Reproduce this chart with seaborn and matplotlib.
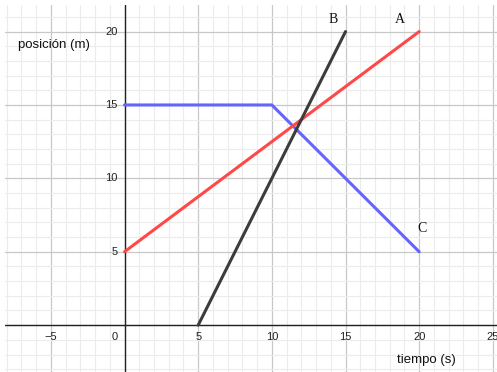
import matplotlib
matplotlib.use("Agg")
import matplotlib.pyplot as plt
from matplotlib.ticker import MultipleLocator
import seaborn as sns
import pandas as pd

# Data
a_t = [0, 20]
a_x = [5, 20]
b_t = [5, 15]
b_x = [0, 20]
c_t = [0, 10, 20]
c_x = [15, 15, 5]
x_ticks = [-5, 5, 10, 15, 20, 25]
y_ticks = [5, 10, 15, 20]

sns.set_theme(style="white")
plt.rcParams['font.family'] = ['Liberation Sans', 'DejaVu Sans']

fig = plt.figure(figsize=(4.97, 3.72), dpi=100)
ax = fig.add_axes([5/497, 0, 492/497, 367/372])
ax.set_xlim(-8.11, 25.28)
ax.set_ylim(-3.19, 21.81)

ax.xaxis.set_major_locator(MultipleLocator(5))
ax.xaxis.set_minor_locator(MultipleLocator(1))
ax.yaxis.set_major_locator(MultipleLocator(5))
ax.yaxis.set_minor_locator(MultipleLocator(1))
ax.grid(which='minor', color='#ececec', lw=0.8)
ax.grid(which='major', color='#c8c8c8', lw=0.9)
ax.tick_params(which='both', length=0, labelbottom=False, labelleft=False)
for s in ax.spines.values():
    s.set_visible(False)
ax.set_axisbelow(True)
ax.axhline(0, color='#222222', lw=1.0, zorder=1.5)
ax.axvline(0, color='#222222', lw=1.0, zorder=1.5)

dfa = pd.DataFrame({'t': a_t, 'x': a_x})
dfb = pd.DataFrame({'t': b_t, 'x': b_x})
dfc = pd.DataFrame({'t': c_t, 'x': c_x})
sns.lineplot(data=dfc, x='t', y='x', ax=ax, color='#6464ff', lw=2.2, sort=False, zorder=3)
sns.lineplot(data=dfa, x='t', y='x', ax=ax, color='#ff4848', lw=2.2, sort=False, zorder=3)
sns.lineplot(data=dfb, x='t', y='x', ax=ax, color='#3c3c3c', lw=2.2, sort=False, zorder=3)
ax.set_xlabel('')
ax.set_ylabel('')

lab_kw = dict(fontsize=8, color='#222222')
for v in y_ticks:
    ax.text(-0.45, v, str(v), ha='right', va='center', **lab_kw)
for v in x_ticks:
    ax.text(v, -0.78, str(v).replace('-', '\u2212'), ha='center', va='center', **lab_kw)
ax.text(-0.45, -0.78, '0', ha='right', va='center', **lab_kw)

ax.text(-7.2, 19.1, 'posición (m)', ha='left', va='center', fontsize=9.5, color='#111111')
ax.text(20.47, -2.4, 'tiempo (s)', ha='center', va='center', fontsize=9.5, color='#111111')

ser = dict(fontsize=10, family=['Liberation Serif', 'DejaVu Serif'], color='#111111', ha='center', va='center')
ax.text(18.7, 20.8, 'A', **ser)
ax.text(14.15, 20.8, 'B', **ser)
ax.text(20.2, 6.6, 'C', **ser)

fig.savefig('out.png', dpi=100)
